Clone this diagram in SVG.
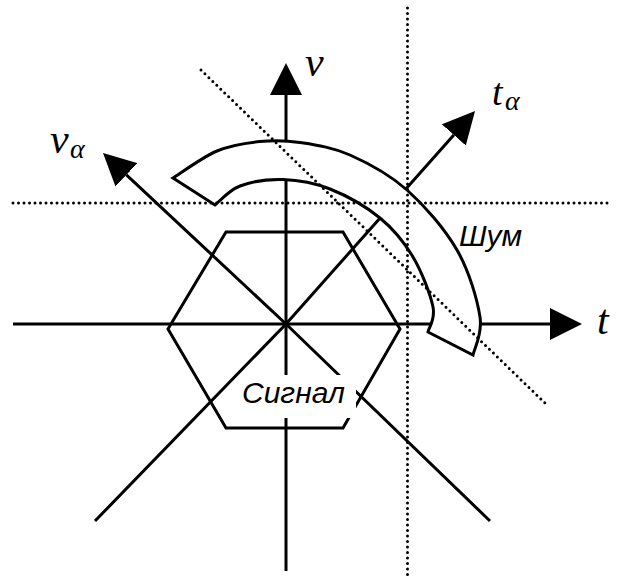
<svg xmlns="http://www.w3.org/2000/svg" width="623" height="581" viewBox="0 0 623 581">
<style>
.ln{fill:none;stroke:#000;stroke-width:3;}
.dot{fill:none;stroke:#000;stroke-width:3;stroke-linecap:round;stroke-dasharray:0 5.5;}
.shape{fill:#fff;stroke:#000;stroke-width:3;stroke-linejoin:miter;}
.hex{fill:none;stroke:#000;stroke-width:3;}
.lbl{font-family:"Liberation Sans",Arial,sans-serif;font-style:italic;fill:#000;}
.math{font-family:"Liberation Serif","Times New Roman",serif;font-style:italic;fill:#000;}
</style>
<defs>
<marker id="ah" viewBox="0 0 32 32" markerWidth="32" markerHeight="32" refX="0" refY="16" orient="auto" markerUnits="userSpaceOnUse">
<path d="M0,0 L32,16 L0,32 Z" fill="#000"/>
</marker>
</defs>
<rect width="623" height="581" fill="#fff"/>
<g id="connectors">
<line class="ln" x1="13" y1="324" x2="550" y2="324" marker-end="url(#ah)"/>
<line class="ln" x1="286" y1="571" x2="286" y2="95" marker-end="url(#ah)"/>
<polyline class="ln" points="490,521 286,324 126.4,174.9" marker-end="url(#ah)"/>
<polyline class="ln" points="95,521 286,324 453.8,134.9" marker-end="url(#ah)"/>
</g>
<g id="signal">
<polygon class="hex" points="226,232 343,232 400,329 343,428 226,428 168,329"/>
<rect x="239" y="375" width="117" height="43" fill="#fff"/>
<text class="lbl" x="242" y="403" font-size="30">Сигнал</text>
</g>
<g id="noise">
<path class="shape" d="M173,178 C180.3,173.5 202.5,157.1 217,151 C231.5,144.9 246.2,142.9 260,141.5 C273.8,140.1 285,140.25 300,142.5 C315,144.75 332.2,147.1 350,155 C367.8,162.9 389.2,174.2 407,190 C424.8,205.8 444.8,228.8 457,250 C469.2,271.2 477.3,299.5 480,317 C482.7,334.5 474.2,348.7 473,355 L428,332 C428.8,327.8 435.5,319.5 433,307 C430.5,294.5 421.8,271.8 413,257 C404.2,242.2 393.8,229.3 380,218 C366.2,206.7 346.2,195.4 330,189 C313.8,182.6 298,180 283,179.5 C268,179 251.3,181.75 240,186 C228.7,190.25 219.2,201.8 215,205 Z"/>
<text class="lbl" x="459" y="246" font-size="30">Шум</text>
</g>
<g id="guides">
<line class="dot" x1="13" y1="203" x2="612" y2="203"/>
<line class="dot" x1="407.5" y1="8" x2="407.5" y2="575"/>
<line class="dot" x1="201" y1="70" x2="547" y2="405"/>
</g>
<g id="axis-labels">
<text class="math" x="305" y="76" font-size="42">v</text>
<text class="math" x="597" y="334" font-size="42">t</text>
<text class="math" x="492" y="105" font-size="38">t</text>
<text class="math" x="505" y="110" font-size="28">α</text>
<text class="math" x="50" y="153" font-size="42">v</text>
<text class="math" x="70" y="158" font-size="28">α</text>
</g>
</svg>
